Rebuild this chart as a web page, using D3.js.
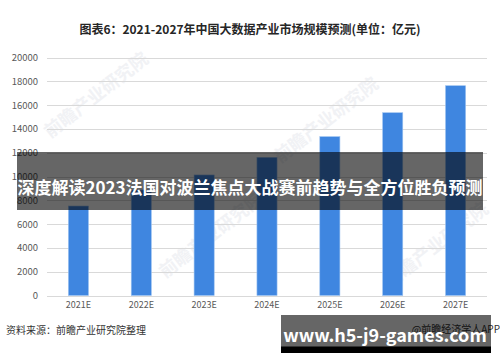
<!DOCTYPE html>
<html><head><meta charset="utf-8">
<script src="https://cdn.jsdelivr.net/npm/d3@7"></script>
<style>
html,body{margin:0;padding:0;background:#fff;}
svg{display:block;}
text{font-family:"Noto Sans CJK SC","Noto Sans",sans-serif;}
</style></head>
<body>
<svg id="chart" width="500" height="362"></svg>
<script>
const categories = ["2021E","2022E","2023E","2024E","2025E","2026E","2027E"];
const values = [7520, 8870, 10130, 11610, 13350, 15360, 17630];
const yTicks = [0,2000,4000,6000,8000,10000,12000,14000,16000,18000,20000];
const title = "图表6：2021-2027年中国大数据产业市场规模预测(单位：亿元)";
const overlayTitle = "深度解读2023法国对波兰焦点大战赛前趋势与全方位胜负预测";
const sourceText = "资料来源：前瞻产业研究院整理";
const creditText = "@前瞻经济学人APP";
const siteText = "www.h5-j9-games.com";
const watermarkText = "前瞻产业研究院";

const svg = d3.select("#chart");
const x = d3.scaleBand().domain(categories).range([47, 487]).paddingInner(0.68).paddingOuter(0.34);
const y = d3.scaleLinear().domain([0, 20000]).range([295.5, 57.5]);

// faint watermarks
const wm = [[100,100],[215,240],[330,125],[440,250]];
svg.append("g").selectAll("text").data(wm).join("text")
  .attr("transform", d => `translate(${d[0]},${d[1]}) rotate(-38)`)
  .attr("text-anchor","middle")
  .attr("font-size", 18).attr("font-weight","bold")
  .attr("fill","#f1f2f5")
  .text(watermarkText);

// title
svg.append("text").attr("x",250).attr("y",34).attr("text-anchor","middle")
  .attr("font-size",12).attr("font-weight","bold").attr("fill","#262626").text(title);

// gridlines
svg.append("g").selectAll("line").data(yTicks).join("line")
  .attr("x1",47).attr("x2",487)
  .attr("y1",d=>Math.round(y(d))+0.5).attr("y2",d=>Math.round(y(d))+0.5)
  .attr("stroke","#d9d9d9").attr("stroke-width",1);

// y axis labels
const yAxis = d3.axisLeft(y).tickValues(yTicks).tickSize(0).tickPadding(0).tickFormat(d3.format("d"));
const ya = svg.append("g").attr("transform","translate(38,0)").call(yAxis);
ya.select(".domain").remove();
ya.selectAll("text").attr("font-size",9.5).attr("fill","#595959")
  .attr("font-family","'Noto Sans','DejaVu Sans',sans-serif");

// bars
svg.append("g").selectAll("rect").data(values).join("rect")
  .attr("x",(d,i)=>x(categories[i]))
  .attr("width",x.bandwidth())
  .attr("y",d=>y(d))
  .attr("height",d=>y(0)-y(d))
  .attr("fill","#3f86e0")
  .attr("stroke","#9cc2f0").attr("stroke-width",0.6);

// x axis labels
const xAxis = d3.axisBottom(x).tickSize(0).tickPadding(0);
const xa = svg.append("g").attr("transform","translate(0,302)").call(xAxis);
xa.select(".domain").remove();
xa.selectAll("text").attr("font-size",9).attr("fill","#595959")
  .attr("font-family","'Noto Sans','DejaVu Sans',sans-serif");

// source
svg.append("text").attr("x",6).attr("y",334).attr("font-size",10).attr("fill","#333").text(sourceText);
svg.append("text").attr("x",500).attr("y",333).attr("text-anchor","end").attr("font-size",10).attr("fill","#333").text(creditText);

// overlay band
svg.append("rect").attr("x",17).attr("y",152).attr("width",466).attr("height",58).attr("fill","rgba(0,0,0,0.6)");
svg.append("text").attr("x",250).attr("y",194).attr("text-anchor","middle")
  .attr("font-size",17).attr("font-weight","bold").attr("fill","#fff").text(overlayTitle);

// bottom site box
svg.append("rect").attr("x",281).attr("y",315).attr("width",210).attr("height",32).attr("fill","rgba(0,0,0,0.6)");
svg.append("rect").attr("x",281).attr("y",346.5).attr("width",210).attr("height",6.5).attr("fill","#000");
svg.append("text").attr("x",385).attr("y",342).attr("text-anchor","middle")
  .attr("font-size",18).attr("font-weight","bold").attr("fill","#fff")
  .attr("font-family","'Open Sans','DejaVu Sans',sans-serif").text(siteText);
</script>
</body></html>
